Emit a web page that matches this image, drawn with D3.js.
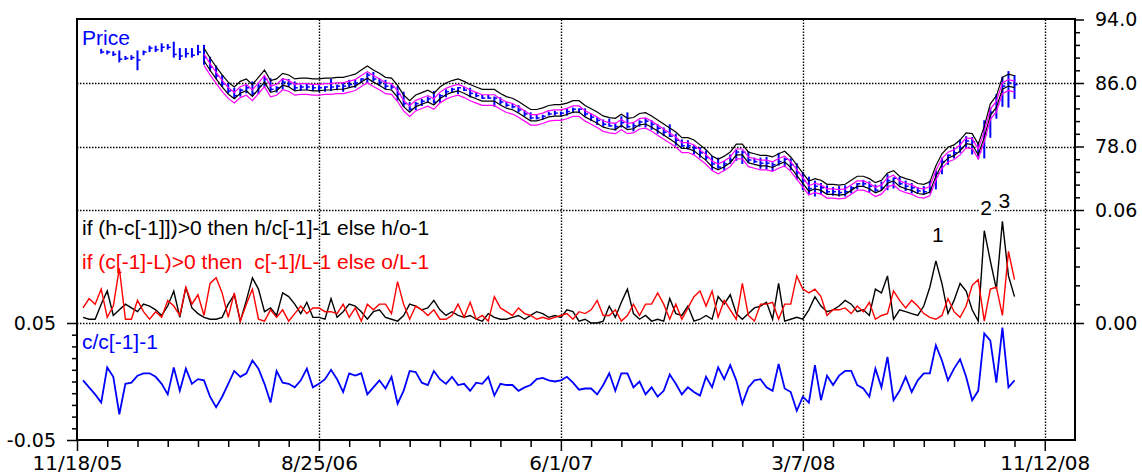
<!DOCTYPE html>
<html><head><meta charset="utf-8">
<script src="https://cdn.jsdelivr.net/npm/d3@7"></script>
<style>body{margin:0;background:#fff}svg{display:block}</style>
</head><body>
<svg id="c" width="1142" height="474"></svg>
<script>
// ---- data (weekly, week 1 .. 155; week 0 = 11/18/05) ----
const dateTickLabels = ["11/18/05","8/25/06","6/1/07","3/7/08","11/12/08"];
const dateTickWeeks = [0,40,80,120,160];
const firstWeek = 1;
const envelopeStartWeek = 21;
const priceTicks = [94,86,78];
const midTicks = [0.06,0.00];
const botTicks = [0.05,-0.05];
const envelopePct = [0.013, 0.005, -0.0045, -0.011];

const priceClose = [
 null,null,null,89.9,89.9,89.6,89.0,89.1,89.2,88.9,
 89.9,90.4,90.2,90.5,90.5,89.6,89.4,89.7,89.5,89.9,
 89.2,88.0,86.9,85.9,85.0,84.4,85.1,85.4,84.7,85.6,
 86.5,85.2,85.4,86.1,85.9,85.4,85.5,85.5,85.4,85.4,
 85.5,85.5,85.6,85.6,85.8,86.0,86.5,87.0,86.5,86.1,
 85.6,85.5,84.6,83.4,82.7,83.4,83.7,84.0,83.6,84.4,
 84.9,85.2,85.4,85.1,84.7,84.4,84.1,84.1,84.1,83.6,
 83.2,83.0,82.6,82.1,81.6,81.6,81.8,82.1,82.2,82.2,
 82.4,82.7,82.7,82.1,81.7,81.3,80.8,80.6,80.5,81.0,
 80.5,80.6,81.1,81.2,80.8,80.3,79.8,79.3,78.8,78.1,
 78.1,77.8,77.2,76.6,75.8,75.4,75.8,76.3,77.3,77.3,
 76.3,76.1,75.9,75.9,75.7,76.1,76.4,75.7,74.7,73.7,
 72.7,73.0,72.8,72.3,72.3,72.2,72.3,72.8,73.3,73.3,
 73.0,72.5,72.8,73.7,74.0,73.3,73.0,72.8,72.4,72.3,
 72.6,74.6,76.1,76.9,77.2,77.8,78.7,78.6,77.3,79.5,
 82.3,83.3,85.6,86.0,85.8];
const priceHigh = [
 null,null,null,90.3,90.1,90.0,90.1,89.4,89.5,90.1,
 90.1,90.7,90.7,91.0,90.9,91.2,90.4,90.4,90.4,90.8,
 90.8,89.3,88.2,87.0,86.0,85.4,85.3,85.8,86.2,86.0,
 86.8,86.6,85.6,86.6,86.5,86.2,85.8,86.0,85.8,85.7,
 85.6,86.5,85.8,86.1,86.4,86.5,86.6,87.3,87.4,86.6,
 86.4,85.8,85.6,84.9,83.6,83.6,84.0,84.3,85.0,84.6,
 85.2,85.4,85.5,85.5,85.4,84.8,84.5,84.5,84.3,84.2,
 83.6,83.4,83.2,82.6,82.3,82.1,82.0,82.4,82.5,82.4,
 82.8,82.9,82.8,82.8,82.1,81.7,81.4,81.5,81.0,81.8,
 82.3,81.0,81.3,81.6,81.3,80.8,80.4,80.8,79.6,78.9,
 78.8,78.2,77.9,77.5,76.8,76.6,76.2,77.0,77.6,77.5,
 77.4,76.6,76.6,76.7,76.0,77.2,76.6,76.5,75.9,74.8,
 74.2,73.7,73.4,73.1,72.9,73.0,73.1,73.0,73.4,73.8,
 73.6,73.2,73.6,74.5,74.1,74.2,73.7,73.4,72.9,73.0,
 73.7,75.0,76.6,77.0,77.8,78.9,79.3,79.2,78.6,81.3,
 82.9,84.6,86.8,87.5,87.0];
const priceLow = [
 null,null,null,89.7,89.6,89.4,88.6,88.9,88.9,87.6,
 89.5,89.9,89.9,89.9,90.2,89.2,88.9,89.2,89.2,89.5,
 88.3,87.5,86.5,85.5,84.7,84.0,84.3,84.7,84.4,84.6,
 85.5,84.9,84.8,85.2,85.5,85.1,85.0,85.1,85.0,84.9,
 84.9,85.0,85.1,84.9,85.5,85.4,86.0,86.0,86.2,85.6,
 85.2,85.2,83.8,83.0,82.5,82.6,83.1,83.5,83.4,83.5,
 84.2,84.8,84.6,85.0,84.2,84.2,84.0,84.0,83.0,83.3,
 83.0,82.8,82.3,81.8,81.4,81.4,81.4,81.9,81.9,81.9,
 81.9,82.2,82.2,81.8,81.2,80.7,80.5,80.5,80.0,80.4,
 80.3,79.9,80.5,80.4,80.1,79.6,79.3,79.2,78.1,77.9,
 77.6,77.0,76.6,76.3,75.0,75.2,74.9,75.8,76.2,75.8,
 75.9,75.9,75.2,75.1,74.9,75.6,75.4,75.0,73.8,72.5,
 72.0,71.7,71.9,72.0,71.8,71.7,71.7,72.1,72.6,72.9,
 72.2,72.3,72.5,72.5,72.7,73.1,72.4,72.1,72.1,72.0,
 72.1,72.6,74.5,75.7,76.5,77.2,77.8,77.0,76.4,76.5,
 79.1,81.5,83.0,82.9,84.0];
// if (h-c[-1])>0 then h/c[-1]-1 else h/o-1
const hiRatio = [
 0.003,0.002,0.002,0.010,0.017,0.004,0.007,0.010,0.008,0.006,
 0.010,0.009,0.007,0.004,0.009,0.017,0.003,0.019,0.008,0.005,
 0.003,0.002,0.002,0.003,0.010,0.015,0.001,0.012,0.024,0.018,
 0.006,0.008,0.004,0.016,0.014,0.010,0.005,0.011,0.003,0.003,
 0.002,0.013,0.003,0.006,0.010,0.009,0.006,0.002,0.006,0.007,
 0.003,0.002,0.001,0.004,0.010,0.009,0.007,0.008,0.012,0.007,
 0.004,0.006,0.004,0.003,0.004,0.002,0.001,0.005,0.003,0.002,
 0.002,0.003,0.004,0.002,0.004,0.006,0.005,0.003,0.004,0.003,
 0.007,0.006,0.001,0.002,0.000,0.000,0.001,0.009,0.003,0.011,
 0.018,0.005,0.002,0.004,0.001,0.002,0.001,0.013,0.005,0.004,
 0.009,0.001,0.002,0.004,0.002,0.014,0.010,0.015,0.005,0.002,
 0.005,0.008,0.009,0.011,0.002,0.021,0.001,0.002,0.003,0.002,
 0.007,0.014,0.009,0.006,0.007,0.009,0.012,0.010,0.006,0.007,
 0.004,0.018,0.016,0.025,0.002,0.007,0.006,0.005,0.004,0.009,
 0.019,0.033,0.021,0.005,0.012,0.021,0.017,0.007,0.001,0.049,
 0.033,0.018,0.054,0.025,0.014];
// if (c[-1]-L)>0 then c[-1]/L-1 else o/L-1
const loRatio = [
 0.008,0.013,0.010,0.018,0.003,0.009,0.029,0.002,0.002,0.012,
 0.006,0.002,0.006,0.003,0.012,0.009,0.004,0.019,0.010,0.015,
 0.004,0.021,0.024,0.016,0.003,0.016,0.001,0.010,0.018,0.002,
 0.001,0.007,0.003,0.007,0.001,0.005,0.009,0.005,0.008,0.008,
 0.006,0.006,0.005,0.010,0.003,0.008,0.001,0.010,0.007,0.010,
 0.010,0.005,0.022,0.010,0.002,0.009,0.007,0.004,0.007,0.002,
 0.002,0.004,0.010,0.003,0.011,0.002,0.004,0.001,0.014,0.008,
 0.006,0.004,0.008,0.005,0.004,0.002,0.003,0.002,0.003,0.004,
 0.005,0.002,0.006,0.005,0.007,0.012,0.004,0.004,0.007,0.001,
 0.004,0.010,0.004,0.010,0.010,0.016,0.010,0.002,0.010,0.002,
 0.008,0.014,0.017,0.009,0.017,0.003,0.012,0.007,0.002,0.021,
 0.004,0.001,0.010,0.010,0.011,0.002,0.010,0.010,0.025,0.018,
 0.016,0.018,0.014,0.004,0.007,0.007,0.008,0.005,0.009,0.006,
 0.011,0.002,0.004,0.005,0.017,0.012,0.008,0.012,0.009,0.005,
 0.003,0.002,0.004,0.013,0.006,0.003,0.009,0.020,0.023,0.001,
 0.018,0.019,0.004,0.038,0.023];
// c/c[-1]-1
const closeChange = [
 0.001,-0.005,-0.011,-0.018,0.012,0.004,-0.028,-0.002,-0.001,0.005,
 0.007,0.007,0.004,-0.002,-0.011,0.012,-0.008,0.011,-0.002,0.002,
 0.001,-0.013,-0.022,-0.013,-0.002,0.009,0.004,0.007,0.018,0.011,
 -0.002,-0.018,0.009,-0.001,-0.002,-0.005,0.001,0.011,-0.005,-0.002,
 0.002,0.010,0.002,-0.009,0.007,0.005,0.007,-0.011,-0.005,0.001,
 -0.006,0.004,-0.019,-0.008,0.009,0.008,-0.001,-0.003,0.009,0.002,
 -0.002,0.004,-0.003,-0.002,-0.008,-0.001,-0.002,0.004,-0.012,-0.002,
 -0.003,-0.003,-0.008,-0.005,-0.003,0.002,0.003,0.001,0.000,0.001,
 0.004,-0.001,-0.007,-0.006,-0.006,-0.011,-0.003,0.007,-0.008,0.007,
 0.007,-0.005,0.000,-0.011,-0.005,-0.013,-0.008,0.006,-0.002,-0.011,
 -0.005,-0.009,-0.012,0.004,-0.005,0.012,0.002,0.014,0.001,-0.019,
 -0.005,0.001,0.002,-0.005,-0.008,0.015,-0.006,-0.009,-0.025,-0.013,
 -0.018,0.014,-0.016,0.005,-0.003,0.005,0.009,0.009,-0.003,-0.006,
 -0.013,0.011,-0.005,0.021,-0.016,-0.008,0.004,-0.009,0.001,0.007,
 0.007,0.031,0.018,0.001,0.011,0.019,0.004,-0.016,-0.008,0.041,
 0.035,-0.001,0.046,-0.005,0.001];
const peakNotes = [{week:142,label:"1"},{week:150,label:"2"},{week:153,label:"3"}];

// ---- drawing ----
const svg = d3.select("#c");
const L = 77, R = 1075, T = 19.5, B = 440;
const x = d3.scaleLinear().domain([0,165]).range([L,R]);
const yPrice = d3.scaleLinear().domain([70,94]).range([210,T]);
const yMid = d3.scaleLinear().domain([0,0.06]).range([323,210]);
const yBot = d3.scaleLinear().domain([-0.05,0.05]).range([B,323]);
const weeks = d3.range(firstWeek, firstWeek + closeChange.length);
const px = v => Math.round(v) + 0.5;
const TICKFONT = "'DejaVu Sans', sans-serif";
const LABELFONT = "'Liberation Sans', Arial, sans-serif";

// grid
const grid = svg.append("g").attr("stroke","#000").attr("stroke-width",1.4).attr("stroke-dasharray","1.5,1.5").attr("fill","none");
[yPrice(86), yPrice(78), yPrice(70), yMid(0)].forEach(y =>
  grid.append("line").attr("x1",L).attr("x2",R).attr("y1",px(y)).attr("y2",px(y)));
dateTickWeeks.slice(1).forEach(w =>
  grid.append("line").attr("x1",px(x(w))).attr("x2",px(x(w))).attr("y1",T).attr("y2",B));

// price bars (HLC)
const bars = svg.append("g").attr("stroke","#0000ff");
weeks.forEach((w,i) => {
  if (priceHigh[i] == null) return;
  bars.append("line").attr("x1",x(w)).attr("x2",x(w))
    .attr("y1",yPrice(priceHigh[i])).attr("y2",yPrice(priceLow[i])).attr("stroke-width",2);
  bars.append("line").attr("x1",x(w)).attr("x2",x(w)+3)
    .attr("y1",yPrice(priceClose[i])).attr("y2",yPrice(priceClose[i])).attr("stroke-width",1.5);
});

// envelope lines
const envColors = ["#000000","#ff00ff","#000000","#ff00ff"];
envelopePct.forEach((p,k) => {
  const line = d3.line()
    .defined((d,i) => weeks[i] >= envelopeStartWeek && d != null)
    .x((d,i) => x(weeks[i])).y(d => yPrice(d*(1+p)));
  svg.append("path").attr("d", line(priceClose)).attr("fill","none")
    .attr("stroke", envColors[k]).attr("stroke-width",1.2);
});

// middle panel
const midLine = d3.line().x((d,i) => x(weeks[i])).y(d => yMid(d));
svg.append("path").attr("d", midLine(hiRatio)).attr("fill","none").attr("stroke","#000").attr("stroke-width",1.4);
svg.append("path").attr("d", midLine(loRatio)).attr("fill","none").attr("stroke","#ff0000").attr("stroke-width",1.4);

// bottom panel
const botLine = d3.line().x((d,i) => x(weeks[i])).y(d => yBot(d));
svg.append("path").attr("d", botLine(closeChange)).attr("fill","none").attr("stroke","#0000ff").attr("stroke-width",1.8);

// frame
svg.append("rect").attr("x",L).attr("y",T-0.5).attr("width",R-L).attr("height",B-T+0.5)
  .attr("fill","none").attr("stroke","#000").attr("stroke-width",2);

function styleAxis(g, size) {
  g.select(".domain").remove();
  g.selectAll(".tick line").attr("stroke","#000").attr("stroke-width",1.5);
  g.selectAll(".tick text").attr("fill","#000").style("font-family",TICKFONT).style("font-size",size+"px");
}
// right axes
svg.append("g").attr("transform",`translate(${R},0)`)
  .call(d3.axisRight(yPrice).tickValues(priceTicks).tickSize(9).tickPadding(11).tickFormat(d => d.toFixed(1)))
  .call(g => styleAxis(g,19));
svg.append("g").attr("transform",`translate(${R},0)`)
  .call(d3.axisRight(yMid).tickValues(midTicks).tickSize(9).tickPadding(11).tickFormat(d => d.toFixed(2)))
  .call(g => styleAxis(g,19));
svg.append("g").attr("transform",`translate(${R},0)`)
  .call(d3.axisRight(yPrice).tickValues(d3.range(0,15).map(k => 94 - 1.6*k).filter(v => priceTicks.indexOf(Math.round(v*10)/10) < 0 && v > 70.5)).tickSize(5).tickFormat(""))
  .call(g => styleAxis(g,19));
svg.append("g").attr("transform",`translate(${R},0)`)
  .call(d3.axisRight(yMid).tickValues([0.01,0.02,0.03,0.04,0.05]).tickSize(5).tickFormat(""))
  .call(g => styleAxis(g,19));
// left axis
svg.append("g").attr("transform",`translate(${L},0)`)
  .call(d3.axisLeft(yBot).tickValues(botTicks).tickSize(10).tickPadding(11).tickFormat(d => d.toFixed(2)))
  .call(g => styleAxis(g,19));
svg.append("g").attr("transform",`translate(${L},0)`)
  .call(d3.axisLeft(yBot).tickValues(d3.range(-4,5).map(k => k/100)).tickSize(5).tickFormat(""))
  .call(g => styleAxis(g,19));
// bottom axis
svg.append("g").attr("transform",`translate(0,${B})`)
  .call(d3.axisBottom(x).tickValues(dateTickWeeks).tickSize(11).tickPadding(5).tickFormat((d,i) => dateTickLabels[i]))
  .call(g => styleAxis(g,20));
svg.append("g").attr("transform",`translate(0,${B})`)
  .call(d3.axisBottom(x).tickValues(d3.range(5,165,5).filter(w => dateTickWeeks.indexOf(w) < 0)).tickSize(7).tickFormat(""))
  .call(g => styleAxis(g,20));

// labels
const label = (txt, xx, yy, color) => svg.append("text").attr("x",xx).attr("y",yy).attr("fill",color)
  .style("font-family",LABELFONT).style("font-size","21px").text(txt);
label("Price", 82, 45, "#0000ff");
label("if (h-c[-1]])>0 then h/c[-1]-1 else h/o-1", 82, 235, "#000");
label("if (c[-1]-L)>0 then \u00a0c[-1]/L-1 else o/L-1", 82, 269, "#ff0000");
label("c/c[-1]-1", 82, 349, "#0000ff");

// peak annotations
const noteY = [242, 215, 208];
peakNotes.forEach((n,k) => {
  const tx = x(n.week) - 4;
  const ty = noteY[k];
  svg.append("rect").attr("x",tx-1).attr("y",ty-16).attr("width",14).attr("height",18).attr("fill","#fff");
  svg.append("text").attr("x",tx).attr("y",ty).attr("fill","#000")
    .style("font-family",LABELFONT).style("font-size","21px").text(n.label);
});
</script>
</body></html>
